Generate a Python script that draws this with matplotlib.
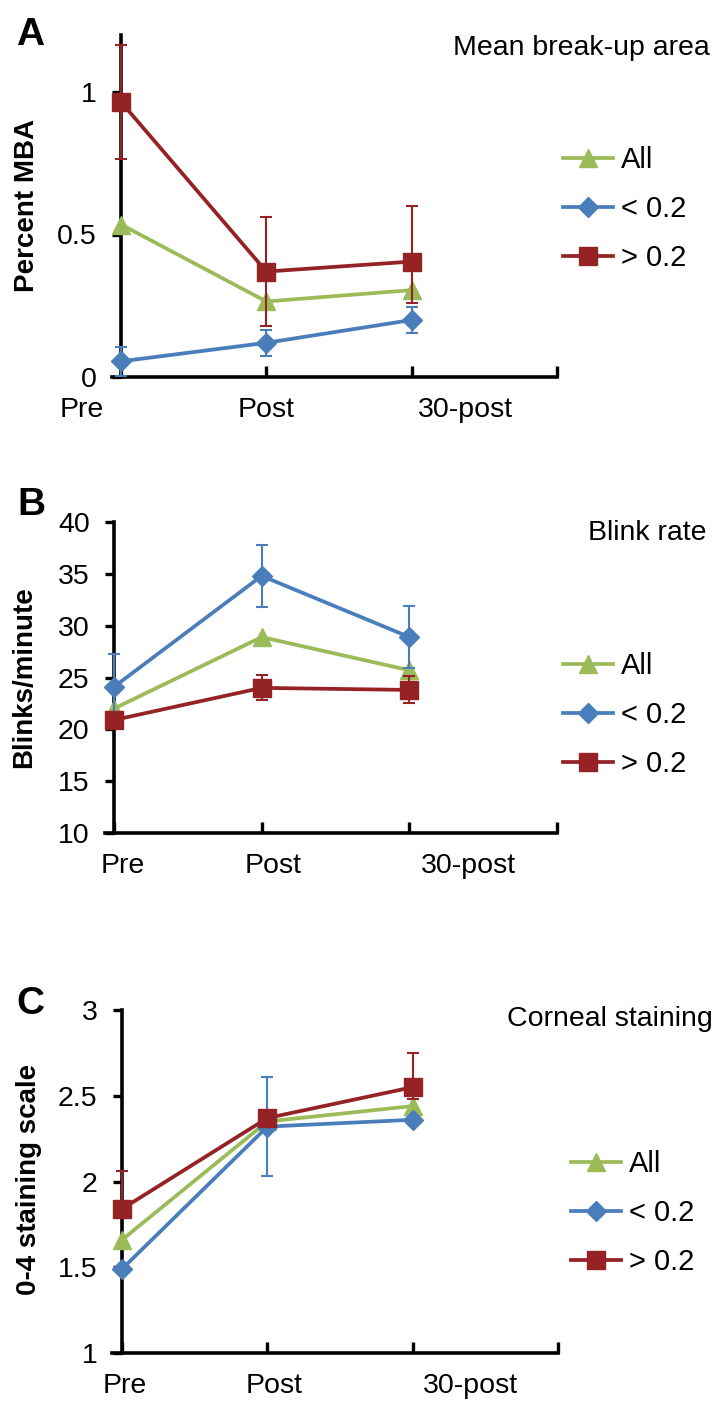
import numpy as np
import matplotlib
matplotlib.use('Agg')
from matplotlib import pyplot as plt
from matplotlib.ticker import FormatStrFormatter

plt.rcParams['font.family'] = ['Liberation Sans', 'DejaVu Sans']

tiempos = ['Pre', 'Post', '30-post']
grupos = ['All', '< 0.2', '> 0.2']
colores = ['#9bbb59', '#4a7ebb', '#952225']
marcadores = ['^', 'D', 's']
tam_marc = [13, 10, 13]

# A: mean break-up area
mba_all = [0.535, 0.265, 0.305]
mba_low = [0.055, 0.12, 0.2]
mba_low_err = [0.05, 0.045, 0.045]
mba_high = [0.965, 0.37, 0.405]
mba_high_err_abajo = [0.2, 0.19, 0.145]
mba_high_err_arriba = [0.2, 0.19, 0.195]

# B: blink rate
blink_all = [22.0, 28.9, 25.7]
blink_low = [24.1, 34.8, 28.9]
blink_low_err = [3.2, 3.0, 3.0]
blink_high = [20.9, 24.0, 23.8]
blink_high_err = [np.nan, 1.2, 1.3]

# C: corneal staining
stain_all = [1.66, 2.35, 2.44]
stain_low = [1.49, 2.32, 2.36]
stain_low_err = [np.nan, 0.29, np.nan]
stain_high = [1.84, 2.37, 2.55]
stain_high_err_abajo = [0.05, np.nan, 0.07]
stain_high_err_arriba = [0.22, np.nan, 0.2]

W, H = 728, 1419
fig = plt.figure(figsize=(W/100, H/100), dpi=100)


def fx(px):
  return px / W


def fy(px):
  return 1 - px / H


def panel(rect, medias, errores, ylim, yticks, ylabel, ylabel_pos, titulo, titulo_pos,
          letra, letra_pos, pos_etiquetas, leyenda_pos, xmin):
  '''
  Dibuja un panel con las tres series, sus barras de error y la leyenda.
  '''
  ax = fig.add_axes(rect)
  x = np.arange(len(tiempos))
  handles = []
  for i, (m, e) in enumerate(zip(medias, errores)):
    if e is not None:
      ax.errorbar(x, m, yerr=e, fmt='none', ecolor=colores[i], elinewidth=1.5,
                  capsize=4.5, capthick=1.5, zorder=2 + 2*i, clip_on=False)
    h, = ax.plot(x, m, color=colores[i], marker=marcadores[i], ms=tam_marc[i],
                 lw=2.7, zorder=3 + 2*i, clip_on=False)
    handles.append(h)

  ax.set_xlim(xmin, 3)
  ax.set_ylim(*ylim)
  ax.set_yticks(yticks)
  ax.yaxis.set_major_formatter(FormatStrFormatter('%g'))
  ax.set_xticks([0, 1, 2, 3])
  for lado in ['top', 'right']:
    ax.spines[lado].set_visible(False)
  ax.spines['left'].set_position(('data', 0))
  for lado in ['left', 'bottom']:
    ax.spines[lado].set_linewidth(2.6)
  ax.tick_params(axis='y', direction='out', length=6.5, width=2.4, labelsize=20.5, pad=11)
  ax.tick_params(axis='x', direction='in', length=8, width=2.4, labelbottom=False)

  for t, px in zip(tiempos, pos_etiquetas):
    ax.annotate(t, xy=(px, 0), xycoords=('data', 'axes fraction'), xytext=(0, -28.5),
                textcoords='offset points', ha='center', va='baseline', fontsize=20.5)

  ax.legend(handles, grupos, loc='center left', bbox_to_anchor=leyenda_pos,
            bbox_transform=fig.transFigure, frameon=False, fontsize=21,
            handlelength=1.7, handletextpad=0.3, labelspacing=0.72,
            borderpad=0, borderaxespad=0)

  fig.text(*ylabel_pos, ylabel, rotation=90, ha='center', va='center',
           fontsize=20, fontweight='bold')
  fig.text(*titulo_pos, titulo, ha='right', va='baseline', fontsize=20.5)
  fig.text(*letra_pos, letra, ha='left', va='baseline', fontsize=28, fontweight='bold')
  return ax


panel([fx(112), fy(377), fx(445), 342/H],
      [mba_all, mba_low, mba_high],
      [None, mba_low_err, [mba_high_err_abajo, mba_high_err_arriba]],
      (0, 1.2), [0, 0.5, 1], 'Percent MBA', (fx(27), fy(205)),
      'Mean break-up area', (fx(710), fy(55)), 'A', (fx(16), fy(45)),
      [-0.27, 1.0, 2.37], (fx(563), fy(209)), -0.062)

panel([fx(105), fy(833), fx(452), 311/H],
      [blink_all, blink_low, blink_high],
      [None, blink_low_err, blink_high_err],
      (10, 40), [10, 15, 20, 25, 30, 35, 40], 'Blinks/minute', (fx(24), fy(677)),
      'Blink rate', (fx(707), fy(540)), 'B', (fx(17), fy(515)),
      [0.06, 1.08, 2.40], (fx(563), fy(715)), -0.061)

panel([fx(112), fy(1353), fx(446), 343/H],
      [stain_all, stain_low, stain_high],
      [None, stain_low_err, [stain_high_err_abajo, stain_high_err_arriba]],
      (1, 3), [1, 1.5, 2, 2.5, 3], '0-4 staining scale', (fx(29), fy(1179)),
      'Corneal staining', (fx(713), fy(1026)), 'C', (fx(16), fy(1014)),
      [0.02, 1.05, 2.40], (fx(571), fy(1213)), -0.069)

fig.savefig('out.png', dpi=100)
